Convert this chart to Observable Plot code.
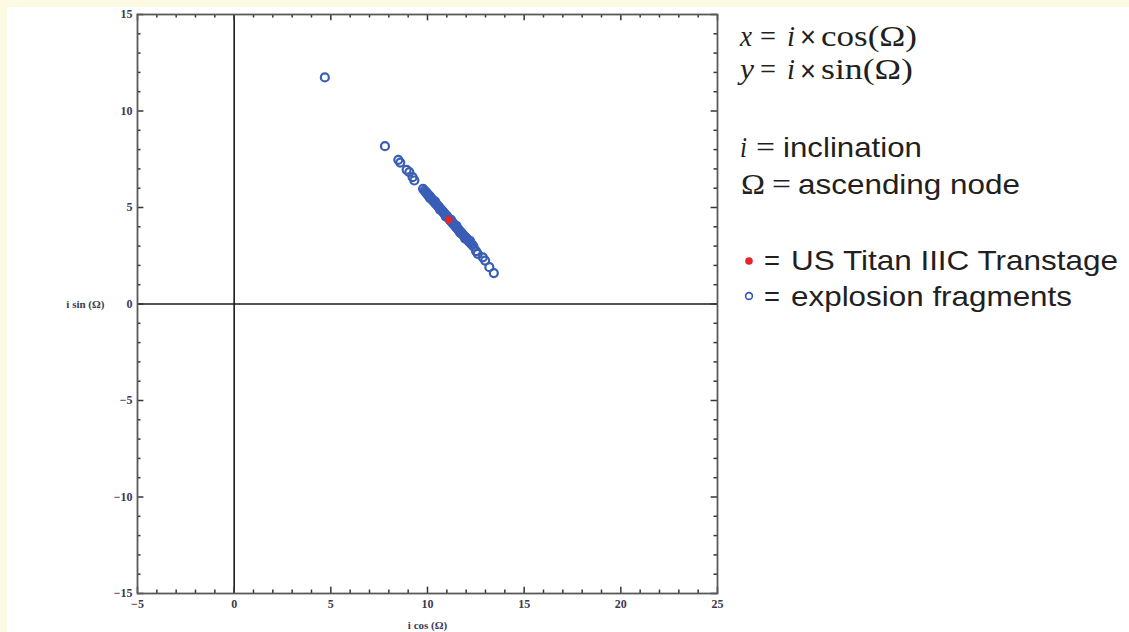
<!DOCTYPE html>
<html>
<head>
<meta charset="utf-8">
<script src="https://cdn.jsdelivr.net/npm/d3@7"></script>
<script src="https://cdn.jsdelivr.net/npm/@observablehq/plot@0.6"></script>
<style>
html,body{margin:0;padding:0;background:#fdfae3;width:1129px;height:632px;overflow:hidden}
#panel{position:absolute;left:7px;top:7px;width:1122px;height:625px;background:#fff}
#chart{position:absolute;left:0;top:0}
#legend{position:absolute;left:0;top:0}
</style>
</head>
<body>
<div id="panel"></div>
<div id="chart"></div>
<svg id="legend" width="1129" height="632" xmlns="http://www.w3.org/2000/svg"></svg>
<script>
// ---- data ----
const fragX = [4.69, 7.80, 8.49, 8.59, 8.92, 9.06, 9.23, 9.32, 9.77,
  9.85, 9.90, 9.94, 9.98, 10.02, 10.05, 10.10, 10.13, 10.17, 10.20, 10.24, 10.28, 10.31, 10.35, 10.38,
  10.42, 10.45, 10.49, 10.52, 10.56, 10.60, 10.63, 10.67, 10.70, 10.74, 10.78, 10.81, 10.85, 10.88,
  10.92, 10.96, 10.99, 11.03, 11.06, 11.14, 11.18, 11.21, 11.25, 11.29, 11.32, 11.36, 11.40, 11.43,
  11.47, 11.51, 11.54, 11.58, 11.62, 11.65, 11.69, 11.73, 11.77, 11.80, 11.84, 11.88, 11.92, 11.96,
  12.00, 12.04, 12.08, 12.12, 12.16, 12.21, 12.26, 12.32, 12.38,
  10.40, 10.95, 11.50, 11.70, 10.12, 10.66, 11.22, 11.95, 12.20,
  12.51, 12.60, 12.86, 12.98, 13.20, 13.43];
const fragY = [11.74, 8.18, 7.47, 7.33, 6.95, 6.83, 6.57, 6.40, 5.97,
  5.88, 5.80, 5.78, 5.71, 5.68, 5.62, 5.60, 5.55, 5.49, 5.47, 5.41, 5.38, 5.33, 5.30, 5.25,
  5.22, 5.17, 5.13, 5.10, 5.04, 5.02, 4.96, 4.93, 4.88, 4.85, 4.80, 4.77, 4.71, 4.69,
  4.63, 4.60, 4.55, 4.52, 4.47, 4.40, 4.33, 4.31, 4.25, 4.22, 4.16, 4.14, 4.08, 4.05,
  4.00, 3.96, 3.92, 3.87, 3.84, 3.78, 3.76, 3.70, 3.67, 3.62, 3.58, 3.54, 3.49, 3.46,
  3.40, 3.37, 3.31, 3.29, 3.22, 3.19, 3.12, 3.07, 2.98,
  5.31, 4.52, 4.05, 3.68, 5.50, 4.87, 4.36, 3.38, 3.27,
  2.74, 2.60, 2.42, 2.25, 1.91, 1.60];
const titanX = [11.10];
const titanY = [4.36];
const xTicks = [-5, 0, 5, 10, 15, 20, 25];
const yTicks = [-15, -10, -5, 0, 5, 10, 15];
const xLabel = "i cos (Ω)";
const yLabel = "i sin (Ω)";

const fragments = fragX.map((x, i) => ({x, y: fragY[i]}));
const titan = titanX.map((x, i) => ({x, y: titanY[i]}));

const xMinor = d3.range(-5, 26).filter(v => v % 5 !== 0);
const yMinor = d3.range(-15, 16).filter(v => v % 5 !== 0);
const majL = 0.33, minL = 0.18;
const tickStyle = {stroke: "#333", strokeWidth: 1.5};

const chart = Plot.plot({
  width: 740, height: 632,
  marginLeft: 137, marginRight: 23, marginTop: 14, marginBottom: 39,
  x: {domain: [-5, 25]},
  y: {domain: [-15, 15]},
  style: {fontFamily: '"Liberation Serif", "DejaVu Serif", serif', fontSize: "12px", color: "#3a3a50", background: "transparent"},
  marks: [
    Plot.ruleX([0], {stroke: "#1a1a1a", strokeWidth: 1.6}),
    Plot.ruleY([0], {stroke: "#1a1a1a", strokeWidth: 1.6}),
    // inward ticks on all four sides
    Plot.ruleX(xMinor, {x: d => d, y1: -15, y2: -15 + minL, ...tickStyle}),
    Plot.ruleX(xMinor, {x: d => d, y1: 15, y2: 15 - minL, ...tickStyle}),
    Plot.ruleX(xTicks, {x: d => d, y1: -15, y2: -15 + majL, ...tickStyle}),
    Plot.ruleX(xTicks, {x: d => d, y1: 15, y2: 15 - majL, ...tickStyle}),
    Plot.ruleY(yMinor, {y: d => d, x1: -5, x2: -5 + minL, ...tickStyle}),
    Plot.ruleY(yMinor, {y: d => d, x1: 25, x2: 25 - minL, ...tickStyle}),
    Plot.ruleY(yTicks, {y: d => d, x1: -5, x2: -5 + majL, ...tickStyle}),
    Plot.ruleY(yTicks, {y: d => d, x1: 25, x2: 25 - majL, ...tickStyle}),
    Plot.frame({stroke: "#5a5a5a", strokeWidth: 1.8}),
    Plot.axisX(xTicks, {tickSize: 0, tickPadding: 6, label: null, fontWeight: "bold"}),
    Plot.axisY(yTicks, {tickSize: 0, tickPadding: 5, label: null, fontWeight: "bold"}),
    Plot.text([xLabel], {frameAnchor: "bottom", dy: 35, fontSize: 11, fill: "#3a3a50", fontWeight: "bold"}),
    Plot.text([yLabel], {frameAnchor: "left", dx: -33, textAnchor: "end", fontSize: 11, fill: "#3a3a50", fontWeight: "bold"}),
    Plot.dot(fragments, {x: "x", y: "y", r: 4, stroke: "#3a5eb6", strokeWidth: 2.2, fill: "none"}),
    Plot.dot(titan, {x: "x", y: "y", r: 3.8, fill: "#e6252b", stroke: "none"})
  ]
});
document.getElementById("chart").appendChild(chart);

// ---- legend / explanatory text ----
const svg = d3.select("#legend");
const serif = '"Liberation Serif", "DejaVu Serif", serif';
const sans = '"Liberation Sans", Arial, sans-serif';
const ink = "#231f20";
function seg(x, y, txt, len, font, size, italic) {
  const t = svg.append("text").attr("x", x).attr("y", y)
    .attr("font-family", font).attr("font-size", size).attr("fill", ink)
    .attr("font-style", italic ? "italic" : "normal").text(txt);
  if (len) t.attr("textLength", len).attr("lengthAdjust", "spacingAndGlyphs");
  return t;
}
// x = i × cos(Ω)
seg(740, 46, "x", 12, serif, 30, true);
seg(760, 46, "=", 16, serif, 30, false);
seg(787, 46, "i", 8, serif, 30, true);
seg(800, 47, "×", 16, sans, 30, false);
seg(821, 46, "cos(Ω)", 96, serif, 30, false);
// y = i × sin(Ω)
seg(740, 79, "y", 14, serif, 30, true);
seg(760, 79, "=", 16, serif, 30, false);
seg(787, 79, "i", 8, serif, 30, true);
seg(800, 81, "×", 16, sans, 30, false);
seg(821, 79, "sin(Ω)", 92, serif, 30, false);
// i = inclination
seg(740, 157, "i", 7, serif, 30, true);
seg(756, 157, "=", 19, serif, 30, false);
seg(783, 157, "inclination", 139, sans, 28, false);
// Ω = ascending node
seg(741, 194, "Ω", 24, serif, 30, false);
seg(772, 194, "=", 19, serif, 30, false);
seg(798, 194, "ascending node", 222, sans, 28, false);
// legend symbols
const dots = svg.append("g");
dots.append("circle").attr("cx", 749).attr("cy", 261).attr("r", 3.8).attr("fill", "#e6252b");
seg(764, 270, "=", 16, sans, 28, false);
seg(791, 270, "US Titan IIIC Transtage", 327, sans, 28, false);
dots.append("circle").attr("cx", 749).attr("cy", 296).attr("r", 3.4).attr("fill", "none").attr("stroke", "#3058b4").attr("stroke-width", 1.6);
seg(764, 306, "=", 16, sans, 28, false);
seg(791, 306, "explosion fragments", 281, sans, 28, false);
</script>
</body>
</html>
